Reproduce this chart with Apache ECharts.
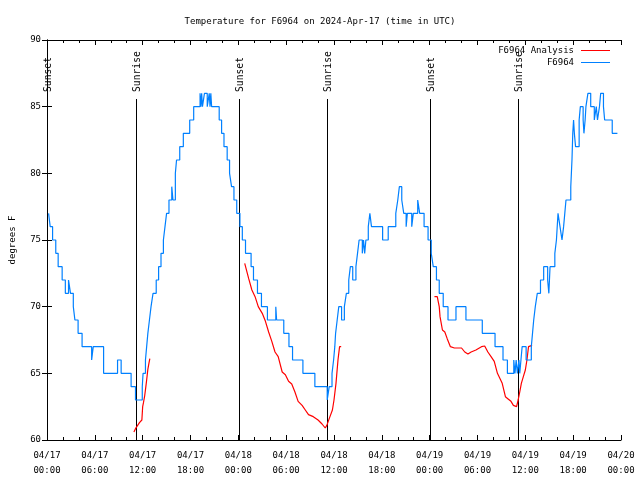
<!DOCTYPE html>
<html>
<head>
<meta charset="utf-8">
<script src="https://cdn.jsdelivr.net/npm/echarts@6/dist/echarts.min.js"></script>
<style>html,body{margin:0;padding:0;background:#fff}#c{width:640px;height:480px}</style>
</head>
<body>
<div id="c"></div>
<script>
// ---- data (hours since 04/17 00:00 UTC) ----
const xTickLabels = ['04/17\n00:00','04/17\n06:00','04/17\n12:00','04/17\n18:00','04/18\n00:00','04/18\n06:00','04/18\n12:00','04/18\n18:00','04/19\n00:00','04/19\n06:00','04/19\n12:00','04/19\n18:00','04/20\n00:00'];
const yTicks = [60, 65, 70, 75, 80, 85, 90];

// F6964 observed temperature: level start hour / value
const obsHours = [0.2,0.4,0.7,1.1,1.4,1.9,2.3,2.7,2.95,3.3,3.5,3.9,4.4,5.6,5.8,7.1,8.85,9.3,10.55,11.1,11.95,12.05,12.35,12.5,12.65,12.85,13.05,13.3,13.7,14.0,14.3,14.6,14.8,15.0,15.3,15.65,15.8,16.1,16.25,16.65,17.1,17.9,18.4,19.2,19.3,19.4,19.5,19.75,20.1,20.35,20.45,20.55,20.65,21.6,21.9,22.2,22.6,22.9,23.15,23.45,23.8,24.2,24.5,24.9,25.6,25.9,26.4,26.9,27.65,28.7,28.8,29.7,30.35,30.8,32.1,33.6,35.15,35.4,35.75,35.95,36.1,36.2,36.4,36.6,36.95,37.3,37.55,37.85,38.05,38.35,38.75,38.95,39.15,39.55,39.7,39.85,40.0,40.3,40.5,40.7,42.1,42.8,43.75,44.0,44.2,44.5,44.75,45.05,45.2,45.75,45.95,46.5,46.75,47.3,47.8,48.2,48.45,48.85,49.2,49.7,50.3,51.3,52.55,54.6,56.2,57.2,57.75,58.55,58.7,58.85,59.0,59.2,59.3,59.45,59.6,60.1,60.75,60.9,61.05,61.25,61.5,61.9,62.3,62.8,62.95,63.1,63.7,63.9,64.1,64.35,64.6,64.8,64.95,65.1,65.7,65.85,65.95,66.05,66.15,66.3,66.75,66.9,67.25,67.35,67.5,67.6,67.85,68.2,68.65,68.9,69.05,69.3,69.45,69.8,69.95,70.9,71.1,71.55,71.75];
const obsTemps = [77,76,75,74,73,72,71,72,71,70,69,68,67,66,67,65,66,65,64,63,64,65,66,67,68,69,70,71,72,73,74,75,76,77,78,79,78,80,81,82,83,84,85,86,85,86,85,86,85,86,85,86,85,84,83,82,81,80,79,78,77,76,75,74,73,72,71,70,69,70,69,68,67,66,65,64,63,64,65,66,67,68,69,70,69,70,71,72,73,72,73,74,75,74,75,74,75,76,77,76,75,76,77,78,79,78,77,76,77,76,77,78,77,76,75,74,73,72,71,70,69,70,69,68,67,66,65,66,65,66,65,66,65,66,67,66,67,68,69,70,71,72,73,72,71,73,74,75,77,76,75,76,77,78,79,81,83,84,83,82,84,85,84,83,84,85,86,85,84,85,84,85,86,85,84,83,83];

// F6964 Analysis: three pieces
const anaHours1 = [10.9,11.1,11.3,11.6,11.9,12.0,12.1,12.25,12.4,12.5,12.65,12.8,12.9];
const anaTemps1 = [60.6,60.85,61.0,61.3,61.5,62.5,62.8,63.3,64.0,64.5,65.3,65.8,66.1];
const anaHours2 = [24.8,25.0,25.3,25.7,26.1,26.5,27.0,27.4,27.8,28.2,28.6,29.0,29.5,29.9,30.3,30.7,31.1,31.5,32.0,32.4,32.8,33.4,34.0,34.5,34.9,35.1,35.4,35.8,36.0,36.25,36.5,36.7,36.9];
const anaTemps2 = [73.25,73.2,72.1,71.25,70.75,70.0,69.5,68.9,68.1,67.4,66.6,66.25,65.1,64.9,64.4,64.2,63.6,62.9,62.6,62.25,61.9,61.75,61.5,61.2,60.9,61.1,61.6,62.25,63.0,64.25,66.0,67.0,67.0];
const anaHours3 = [48.6,48.95,49.2,49.3,49.6,49.9,50.2,50.6,51.1,52.0,52.4,52.8,53.2,53.8,54.5,54.9,55.3,55.7,56.1,56.5,57.1,57.5,57.8,58.2,58.5,58.75,58.9,59.1,59.3,59.5,59.75,60.0,60.2,60.4,60.6,60.85];
const anaTemps3 = [70.75,70.75,70.0,69.25,68.25,68.1,67.6,67.0,66.9,66.9,66.6,66.45,66.6,66.75,67.0,67.05,66.6,66.25,65.9,65.0,64.25,63.25,63.1,62.9,62.6,62.5,62.5,63.0,63.6,64.25,64.75,65.25,66.0,67.0,67.1,67.1];

// sun events
const sunHours = [0.05, 11.15, 24.1, 35.15, 48.05, 59.1];
const sunLabels = ['Sunset','Sunrise','Sunset','Sunrise','Sunset','Sunrise'];

// ---- build ----
const FONT = '"DejaVu Sans Mono", "Liberation Mono", monospace';
const zip = (a, b) => a.map((v, i) => [v, b[i]]);
const anaData = [].concat(zip(anaHours1, anaTemps1), [[18, '-']], zip(anaHours2, anaTemps2), [[42, '-']], zip(anaHours3, anaTemps3));
const obsData = zip(obsHours, obsTemps);

const chart = echarts.init(document.getElementById('c'), null, {renderer: 'canvas'});
const axisCommon = {
  axisLine: {show: true, lineStyle: {color: '#000', width: 1}},
  splitLine: {show: false}
};
const legendCommon = {
  orient: 'vertical', align: 'right', right: 30, padding: 0,
  itemWidth: 29, itemHeight: 1, itemGap: 0, icon: 'rect',
  textStyle: {fontFamily: FONT, fontSize: 9, color: '#000', padding: [0, 2, 0, 0]}
};
chart.setOption({
  animation: false,
  backgroundColor: '#fff',
  title: {
    text: 'Temperature for F6964 on 2024-Apr-17 (time in UTC)',
    left: 'center', top: 12,
    textStyle: {fontFamily: FONT, fontSize: 9, fontWeight: 'normal', color: '#000'}
  },
  legend: [
    Object.assign({}, legendCommon, {data: ['F6964 Analysis'], top: 46}),
    Object.assign({}, legendCommon, {data: ['F6964'], top: 58})
  ],
  grid: {left: 46, right: 19, top: 40, bottom: 40, containLabel: false},
  xAxis: [
    Object.assign({}, axisCommon, {
      type: 'value', position: 'bottom', min: 0, max: 72, interval: 6,
      axisTick: {show: true, inside: true, length: 5, lineStyle: {color: '#000'}},
      minorTick: {show: true, splitNumber: 3, length: 3, lineStyle: {color: '#000'}},
      axisLabel: {
        color: '#000', fontFamily: FONT, fontSize: 9, lineHeight: 15, margin: 8,
        formatter: v => xTickLabels[Math.round(v / 6)]
      }
    }),
    Object.assign({}, axisCommon, {
      type: 'value', position: 'top', min: 0, max: 72, interval: 6,
      axisTick: {show: true, inside: true, length: 5, lineStyle: {color: '#000'}},
      minorTick: {show: true, splitNumber: 3, length: 3, lineStyle: {color: '#000'}},
      axisLabel: {show: false}
    })
  ],
  yAxis: [
    Object.assign({}, axisCommon, {
      type: 'value', position: 'left', min: yTicks[0], max: yTicks[yTicks.length - 1], interval: 5,
      axisTick: {show: true, inside: true, length: 5, lineStyle: {color: '#000'}},
      axisLabel: {color: '#000', fontFamily: FONT, fontSize: 9, margin: 6},
      name: 'degrees F', nameLocation: 'middle', nameGap: 30, nameRotate: 90,
      nameTextStyle: {color: '#000', fontFamily: FONT, fontSize: 9}
    }),
    Object.assign({}, axisCommon, {
      type: 'value', position: 'right', min: yTicks[0], max: yTicks[yTicks.length - 1], interval: 5,
      axisTick: {show: true, inside: true, length: 5, lineStyle: {color: '#000'}},
      axisLabel: {show: false}
    })
  ],
  series: [
    {
      type: 'custom', name: 'sun', xAxisIndex: 0, yAxisIndex: 0, silent: true, z: 1,
      data: sunHours.map(h => [h, 60]),
      renderItem: function (params, api) {
        const p = api.coord([api.value(0), api.value(1)]);
        const x = Math.round(p[0]) + 0.5;
        const topY = params.coordSys.y + 59;
        return {
          type: 'group',
          children: [
            {type: 'line', shape: {x1: x, y1: p[1], x2: x, y2: topY}, style: {stroke: '#000', lineWidth: 1}},
            {type: 'text', x: x + 1, y: topY - 7, rotation: Math.PI / 2,
             style: {text: sunLabels[params.dataIndex], font: '9.7px ' + FONT, fill: '#000', align: 'left', verticalAlign: 'middle'}}
          ]
        };
      }
    },
    {
      name: 'F6964 Analysis', type: 'line', data: anaData, showSymbol: false, symbol: 'none', z: 3,
      connectNulls: false,
      lineStyle: {color: '#ff0000', width: 1.2}, itemStyle: {color: '#ff0000'}
    },
    {
      name: 'F6964', type: 'line', data: obsData, step: 'end', showSymbol: false, symbol: 'none', z: 4,
      lineStyle: {color: '#0080ff', width: 1.2}, itemStyle: {color: '#0080ff'}
    }
  ]
});
</script>
</body>
</html>
